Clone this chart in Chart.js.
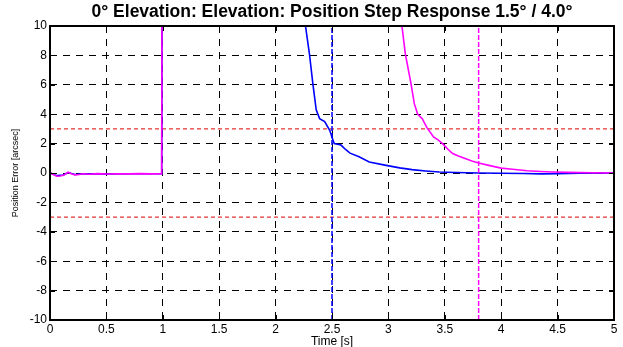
<!DOCTYPE html>
<html>
<head>
<meta charset="utf-8">
<script src="https://cdn.jsdelivr.net/npm/chart.js@4/dist/chart.umd.min.js"></script>
<style>
  html, body { margin: 0; padding: 0; background: #fff; }
  #wrap { width: 623px; height: 347px; }
</style>
</head>
<body>
<div id="wrap"><canvas id="c" width="623" height="347"></canvas></div>
<script>
// ---- data ----
const titleText = '0° Elevation: Elevation: Position Step Response 1.5° / 4.0°';
const xTitle = 'Time [s]';
const yTitle = 'Position Error [arcsec]';

const xTickValues = [0, 0.5, 1, 1.5, 2, 2.5, 3, 3.5, 4, 4.5, 5];
const xTickLabels = ['0', '0.5', '1', '1.5', '2', '2.5', '3', '3.5', '4', '4.5', '5'];
const yTickValues = [-10, -8, -6, -4, -2, 0, 2, 4, 6, 8, 10];
const yTickLabels = ['-10', '-8', '-6', '-4', '-2', '0', '2', '4', '6', '8', '10'];

// 4.0° step (magenta)
const tMagenta = [0, 0.03, 0.06, 0.09, 0.12, 0.16, 0.19, 0.22, 0.26, 0.29, 0.35, 0.42, 0.5, 0.6, 0.7, 0.8, 0.9, 0.99, 1.0, 2.6, 3.08, 3.12, 3.15, 3.20, 3.23, 3.26, 3.30, 3.34, 3.40, 3.44, 3.48, 3.53, 3.57, 3.62, 3.68, 3.74, 3.80, 3.90, 4.0, 4.1, 4.23, 4.35, 4.46, 4.6, 4.8, 5.0];
const yMagenta = [0.03, -0.1, -0.22, -0.2, -0.16, 0.05, -0.05, -0.13, -0.1, -0.05, -0.08, -0.04, -0.07, -0.05, -0.06, -0.04, -0.06, -0.05, 40, 40, 13, 10, 8.1, 6.1, 4.7, 4.0, 3.7, 3.1, 2.45, 2.25, 2.0, 1.6, 1.32, 1.15, 0.98, 0.82, 0.68, 0.5, 0.33, 0.25, 0.15, 0.1, 0.07, 0.04, 0.02, 0.0];

// 1.5° step (blue)
const tBlue = [0, 0.06, 0.12, 0.16, 0.22, 0.3, 0.5, 0.7, 0.9, 0.99, 1.0, 1.8, 2.22, 2.265, 2.30, 2.33, 2.36, 2.39, 2.435, 2.48, 2.51, 2.52, 2.58, 2.62, 2.66, 2.74, 2.83, 2.98, 3.1, 3.21, 3.33, 3.45, 3.6, 3.8, 4.0, 4.2, 4.35, 4.5, 4.7, 5.0];
const yBlue = [0.0, -0.18, -0.14, 0.03, -0.1, -0.05, -0.06, -0.05, -0.05, -0.05, 40, 40, 13, 10, 8.1, 6.1, 4.3, 3.7, 3.5, 2.9, 2.2, 2.0, 1.9, 1.6, 1.35, 1.1, 0.75, 0.52, 0.35, 0.23, 0.14, 0.07, 0.03, 0.0, -0.02, -0.03, -0.06, -0.05, -0.02, 0.0];

// reference lines
const tolerance = [3, -3];          // arcsec band (red dashed)
const settleBlue = 2.5;             // blue vertical marker
const settleMagenta = 3.8;          // magenta vertical marker
const yRange = [-10, 10];
const xRange = [0, 5];

// ---- build datasets ----
const toPts = (ts, ys) => ts.map((t, i) => ({ x: t, y: ys[i] }));

const datasets = [
  { label: 'settle 4.0', data: [{ x: settleMagenta, y: yRange[0] }, { x: settleMagenta, y: yRange[1] }],
    borderColor: '#ff00ff', borderWidth: 1.5, borderDash: [5, 2] },
  { label: 'settle 1.5', data: [{ x: settleBlue, y: yRange[0] }, { x: settleBlue, y: yRange[1] }],
    borderColor: '#0000ff', borderWidth: 1.5, borderDash: [5, 2] },
  { label: '4.0 deg', data: toPts(tMagenta, yMagenta), borderColor: '#ff00ff', borderWidth: 1.6 },
  { label: '1.5 deg', data: toPts(tBlue, yBlue), borderColor: '#0000ff', borderWidth: 1.6 },
  ...tolerance.map(v => ({ label: 'tol ' + v, data: [{ x: xRange[0], y: v }, { x: xRange[1], y: v }],
    borderColor: '#dd0000', borderWidth: 1, borderDash: [4, 3] }))
];
datasets.forEach(d => { d.pointRadius = 0; d.tension = 0; d.fill = false; });

const frame = {
  id: 'frame',
  afterLayout(chart) {
    // centre the title over the plot area, as in the reference
    if (chart.titleBlock) {
      chart.titleBlock.left = chart.chartArea.left;
      chart.titleBlock.right = chart.chartArea.right;
    }
  },
  afterDatasetsDraw(chart) {
    const { ctx, chartArea: a, scales: { x, y } } = chart;
    ctx.save();
    ctx.strokeStyle = '#000';
    ctx.lineWidth = 1;
    ctx.beginPath();
    xTickValues.forEach(v => {
      const px = Math.round(x.getPixelForValue(v)) + 0.5;
      ctx.moveTo(px, a.bottom); ctx.lineTo(px, a.bottom - 5);
      ctx.moveTo(px, a.top); ctx.lineTo(px, a.top + 5);
    });
    yTickValues.forEach(v => {
      const py = Math.round(y.getPixelForValue(v)) + 0.5;
      ctx.moveTo(a.left, py); ctx.lineTo(a.left + 5, py);
      ctx.moveTo(a.right, py); ctx.lineTo(a.right - 5, py);
    });
    ctx.stroke();
    ctx.lineWidth = 2;
    ctx.strokeRect(a.left, a.top, a.right - a.left, a.bottom - a.top);
    ctx.restore();
  }
};

const FONT = "'Liberation Sans', Arial, Helvetica, sans-serif";

new Chart(document.getElementById('c'), {
  type: 'line',
  data: { datasets },
  plugins: [frame],
  options: {
    responsive: false,
    animation: false,
    events: [],
    layout: { padding: { left: 0, right: 9, top: 0, bottom: 0 } },
    plugins: {
      legend: { display: false },
      tooltip: { enabled: false },
      title: {
        display: true, text: titleText, color: '#000',
        font: { family: FONT, size: 17.5, weight: 'bold' },
        padding: { top: 2, bottom: 3 }
      }
    },
    scales: {
      x: {
        type: 'linear', min: xRange[0], max: xRange[1],
        afterFit: s => { s.height = 27; },
        afterBuildTicks: s => { s.ticks = xTickValues.map(v => ({ value: v })); },
        ticks: {
          autoSkip: false, maxRotation: 0, padding: 2, color: '#000',
          font: { family: FONT, size: 12 },
          callback: v => xTickLabels[xTickValues.indexOf(v)] ?? ''
        },
        grid: { color: '#000', lineWidth: 1, drawTicks: false },
        border: { display: false, dash: [7, 6] },
        title: { display: true, text: xTitle, color: '#000', font: { family: FONT, size: 12 }, padding: { top: 0, bottom: -1.5 } }
      },
      y: {
        type: 'linear', min: yRange[0], max: yRange[1],
        afterFit: s => { s.width = 50; },
        afterBuildTicks: s => { s.ticks = yTickValues.map(v => ({ value: v })); },
        ticks: {
          autoSkip: false, padding: 3, color: '#000',
          font: { family: FONT, size: 12 },
          callback: v => yTickLabels[yTickValues.indexOf(v)] ?? ''
        },
        grid: { color: '#000', lineWidth: 1, drawTicks: false },
        border: { display: false, dash: [7, 6] },
        title: { display: true, text: yTitle, color: '#000', font: { family: FONT, size: 9 }, padding: { top: 10.6, bottom: 0 } }
      }
    }
  }
});
</script>
</body>
</html>
